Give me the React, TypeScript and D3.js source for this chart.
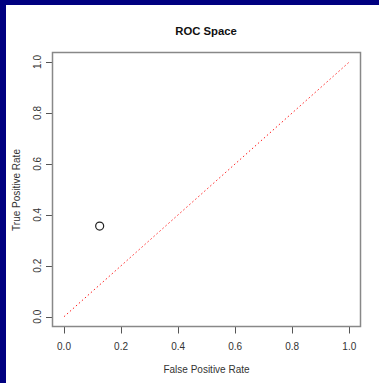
import React from 'react';
import * as d3 from 'd3';

const xTicks = [0, 0.2, 0.4, 0.6, 0.8, 1.0];
const yTicks = [0, 0.2, 0.4, 0.6, 0.8, 1.0];
const fpr = [0.125];
const tpr = [0.356];
const diagonal = [0, 1];

const W = 379;
const H = 383;

export default function App() {
  const x = d3.scaleLinear().domain([0, 1]).range([64, 349.3]);
  const y = d3.scaleLinear().domain([0, 1]).range([316.7, 62]);
  const box = { l: 52.5, r: 360.5, t: 52.5, b: 326.5 };
  const font = 'Liberation Sans, Arial, sans-serif';
  const axisCol = '#555';
  const line = d3.line<number>().x(d => x(d)).y(d => y(d));

  return (
    <div style={{ position: 'fixed', left: 0, top: 0 }}>
      <svg width={W} height={H} style={{ display: 'block' }} fontFamily={font}>
        <rect x={0} y={0} width={W} height={H} fill="#fff" />
        <rect x={0} y={0} width={W} height={5} fill="#000080" />
        <rect x={0} y={0} width={6} height={H} fill="#000080" />

        <text x={206} y={35} textAnchor="middle" fontSize={11.3} fontWeight="bold" fill="#111">ROC Space</text>

        {/* x axis ticks */}
        {xTicks.map(t => (
          <g key={'x' + t}>
            <line x1={Math.round(x(t)) + 0.5} x2={Math.round(x(t)) + 0.5} y1={box.b} y2={333.5} stroke={axisCol} strokeWidth={1} />
            <text x={x(t)} y={349.5} textAnchor="middle" fontSize={10} fill="#333">{t.toFixed(1)}</text>
          </g>
        ))}
        <text x={206.5} y={373} textAnchor="middle" fontSize={10} fill="#333">False Positive Rate</text>

        {/* y axis ticks */}
        {yTicks.map(t => (
          <g key={'y' + t}>
            <line x1={46} x2={box.l} y1={Math.round(y(t)) + 0.5} y2={Math.round(y(t)) + 0.5} stroke={axisCol} strokeWidth={1} />
            <text transform={`translate(41.3,${y(t)}) rotate(-90)`} textAnchor="middle" fontSize={10} fill="#333">{t.toFixed(1)}</text>
          </g>
        ))}
        <text transform={`translate(19.6,190) rotate(-90)`} textAnchor="middle" fontSize={10} fill="#333">True Positive Rate</text>

        <rect x={box.l} y={box.t} width={box.r - box.l} height={box.b - box.t}
          fill="none" stroke="#888" strokeWidth={1.5} />

        <path d={line(diagonal) || ''} fill="none" stroke="#ff2020" strokeWidth={1} strokeDasharray="1.5,2.5" />

        {fpr.map((v, i) => (
          <circle key={i} cx={x(v)} cy={y(tpr[i])} r={4} fill="none" stroke="#222" strokeWidth={1.2} />
        ))}
      </svg>
    </div>
  );
}
